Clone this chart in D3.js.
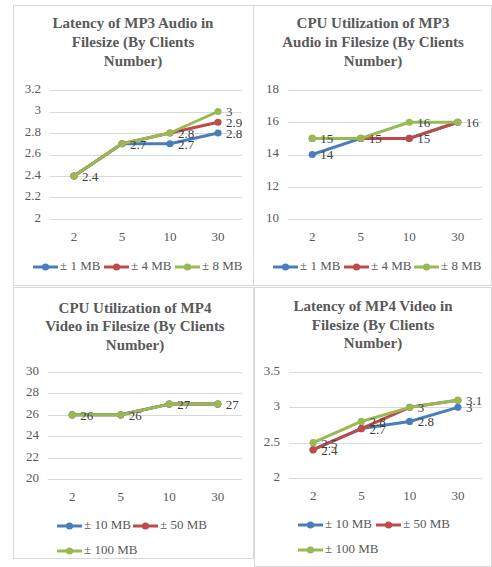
<!DOCTYPE html>
<html>
<head>
<meta charset="utf-8">
<script src="https://cdn.jsdelivr.net/npm/d3@7"></script>
<style>
  body { margin: 0; background: #fff; }
  svg { display: block; }
</style>
</head>
<body>
<svg id="canvas" width="492" height="567"></svg>
<script>
// categories (clients number)
const clients = ["2", "5", "10", "30"];

// series names
const mp3Sizes = ["± 1 MB", "± 4 MB", "± 8 MB"];
const mp4Sizes = ["± 10 MB", "± 50 MB", "± 100 MB"];

// values
const mp3Latency = [
  [2.4, 2.7, 2.7, 2.8],
  [2.4, 2.7, 2.8, 2.9],
  [2.4, 2.7, 2.8, 3]
];
const mp3Cpu = [
  [14, 15, 15, 16],
  [15, 15, 15, 16],
  [15, 15, 16, 16]
];
const mp4Cpu = [
  [26, 26, 27, 27],
  [26, 26, 27, 27],
  [26, 26, 27, 27]
];
const mp4Latency = [
  [2.4, 2.7, 2.8, 3],
  [2.4, 2.7, 3, 3.1],
  [2.5, 2.8, 3, 3.1]
];

// y axis ticks
const mp3LatencyTicks = [2, 2.2, 2.4, 2.6, 2.8, 3, 3.2];
const mp3CpuTicks = [10, 12, 14, 16, 18];
const mp4CpuTicks = [20, 22, 24, 26, 28, 30];
const mp4LatencyTicks = [2, 2.5, 3, 3.5];

const colors = ["#4a7ebb", "#be4b48", "#98b954"];
const svg = d3.select("#canvas");
const fmt = (v) => String(+v.toFixed(2));

// panel frames
[[13, 5, 240, 280], [253, 5, 238, 280], [13, 287, 240, 271], [254, 287, 237, 279]].forEach((b) => {
  svg.append("rect")
    .attr("x", b[0] + 0.5).attr("y", b[1] + 0.5)
    .attr("width", b[2]).attr("height", b[3])
    .attr("fill", "none").attr("stroke", "#d9d9d9");
});

const drawPanel = (cfg) => {
  const g = svg.append("g");
  const x = d3.scalePoint().domain(clients).range([cfg.x0, cfg.x1]).padding(0.5);
  const y = d3.scaleLinear().domain(d3.extent(cfg.ticks)).range(cfg.yRange);

  //title
  cfg.title.forEach((t, i) => {
    g.append("text")
      .attr("x", cfg.cx).attr("y", cfg.titleY[i])
      .attr("text-anchor", "middle").attr("dominant-baseline", "middle")
      .attr("font-family", "Liberation Serif").attr("font-weight", "bold")
      .attr("font-size", 15).attr("fill", "#595959")
      .text(t);
  });

  //gridlines
  g.selectAll(".grid").data(cfg.ticks).enter().append("line")
    .attr("x1", cfg.x0).attr("x2", cfg.x1)
    .attr("y1", (d) => Math.round(y(d)) + 0.5).attr("y2", (d) => Math.round(y(d)) + 0.5)
    .attr("stroke", "#d9d9d9").attr("stroke-width", 1);

  //y tick labels
  g.selectAll(".ylab").data(cfg.ticks).enter().append("text")
    .attr("x", cfg.x0 - 9).attr("y", (d) => y(d))
    .attr("text-anchor", "end").attr("dominant-baseline", "middle")
    .attr("font-family", "Liberation Serif").attr("font-size", 13).attr("fill", "#595959")
    .text(fmt);

  //x tick labels
  g.selectAll(".xlab").data(clients).enter().append("text")
    .attr("x", (d) => x(d)).attr("y", cfg.xLabY)
    .attr("text-anchor", "middle").attr("dominant-baseline", "middle")
    .attr("font-family", "Liberation Serif").attr("font-size", 13).attr("fill", "#595959")
    .text((d) => d);

  const line = d3.line().x((d, i) => x(clients[i])).y((d) => y(d));

  cfg.series.forEach((vals, s) => {
    g.append("path").datum(vals)
      .attr("d", line).attr("fill", "none")
      .attr("stroke", colors[s]).attr("stroke-width", 3).attr("stroke-linejoin", "round");
    g.selectAll(".m" + s).data(vals).enter().append("circle")
      .attr("cx", (d, i) => x(clients[i])).attr("cy", (d) => y(d))
      .attr("r", 3.6).attr("fill", colors[s]);
  });

  //data labels on top (identical labels at the same spot drawn once)
  const seen = new Set();
  const labels = [];
  cfg.series.forEach((vals) => {
    vals.forEach((v, i) => {
      const key = i + ":" + fmt(v);
      if (!seen.has(key)) {
        seen.add(key);
        labels.push({ c: clients[i], v: v });
      }
    });
  });
  g.selectAll(".dl").data(labels).enter().append("text")
    .attr("x", (d) => x(d.c) + 8).attr("y", (d) => y(d.v) + 2)
    .attr("dominant-baseline", "middle")
    .attr("font-family", "Liberation Serif").attr("font-size", 13).attr("fill", "#404040")
    .text((d) => fmt(d.v));

  //legend
  cfg.names.forEach((name, s) => {
    const p = cfg.legend[s];
    g.append("line")
      .attr("x1", p[0]).attr("x2", p[0] + 25).attr("y1", p[1]).attr("y2", p[1])
      .attr("stroke", colors[s]).attr("stroke-width", 3);
    g.append("circle").attr("cx", p[0] + 12.5).attr("cy", p[1]).attr("r", 3.6).attr("fill", colors[s]);
    g.append("text")
      .attr("x", p[0] + 27).attr("y", p[1])
      .attr("dominant-baseline", "middle")
      .attr("font-family", "Liberation Serif").attr("font-size", 13).attr("fill", "#595959")
      .text(name);
  });
};

drawPanel({
  title: ["Latency of MP3 Audio in", "Filesize (By Clients", "Number)"],
  cx: 133, titleY: [25, 44, 63],
  x0: 50, x1: 242, yRange: [219, 90], ticks: mp3LatencyTicks, xLabY: 238,
  series: mp3Latency, names: mp3Sizes,
  legend: [[33, 267], [104, 267], [175, 267]]
});

drawPanel({
  title: ["CPU Utilization of MP3", "Audio in Filesize (By Clients", "Number)"],
  cx: 373, titleY: [25, 44, 63],
  x0: 288, x1: 482, yRange: [219, 90], ticks: mp3CpuTicks, xLabY: 238,
  series: mp3Cpu, names: mp3Sizes,
  legend: [[273, 267], [344, 267], [414, 267]]
});

drawPanel({
  title: ["CPU Utilization of MP4", "Video in Filesize (By Clients", "Number)"],
  cx: 135, titleY: [310, 328, 347],
  x0: 48, x1: 242, yRange: [479, 372], ticks: mp4CpuTicks, xLabY: 498,
  series: mp4Cpu, names: mp4Sizes,
  legend: [[57, 526], [133, 526], [57, 551]]
});

drawPanel({
  title: ["Latency of MP4 Video in", "Filesize (By Clients", "Number)"],
  cx: 373, titleY: [308, 327, 345],
  x0: 289, x1: 482, yRange: [478, 372], ticks: mp4LatencyTicks, xLabY: 497,
  series: mp4Latency, names: mp4Sizes,
  legend: [[298, 525], [376, 525], [298, 550]]
});
</script>
</body>
</html>
